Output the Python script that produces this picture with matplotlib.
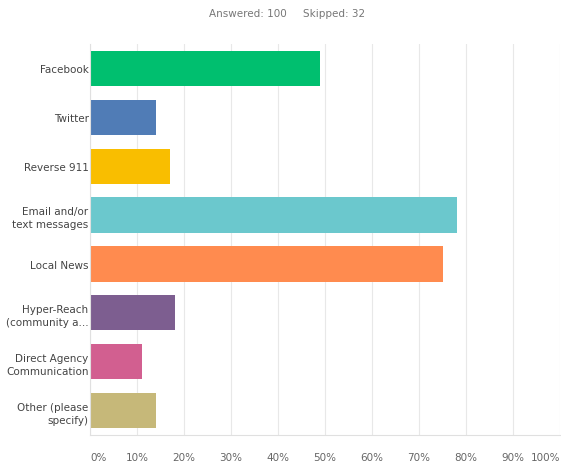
import matplotlib.pyplot as plt

# answer choices and share of respondents (%)
categories = ["Facebook", "Twitter", "Reverse 911", "Email and/or\ntext messages",
              "Local News", "Hyper-Reach\n(community a...", "Direct Agency\nCommunication",
              "Other (please\nspecify)"]
values = [49, 14, 17, 78, 75, 18, 11, 14]
colors = ["#00BF6F", "#507CB6", "#F9BE00", "#6BC8CD", "#FF8B4F", "#7D5E90", "#D25F90", "#C6B879"]
ticks = list(range(0, 101, 10))

fig = plt.figure(figsize=(5.61, 4.64), dpi=100)
ax = fig.add_axes([90 / 561, 1 - 436 / 464, 470 / 561, 391 / 464])

ax.barh(range(len(categories)), values, height=0.72, color=colors, zorder=2)
ax.set_ylim(len(categories) - 0.5, -0.5)
ax.set_xlim(0, 100)

ax.set_yticks(range(len(categories)))
ax.set_yticklabels(categories, fontsize=7.5, color="#444444", linespacing=1.4)
ax.set_xticks(ticks)
ax.set_xticklabels([f"{t}%" for t in ticks], fontsize=7.5, color="#666666")
ax.tick_params(axis="y", length=0, pad=1)
ax.tick_params(axis="x", length=0, pad=12)

# end labels are kept inside the plot width
xlabels = ax.get_xticklabels()
xlabels[0].set_horizontalalignment("left")
xlabels[-1].set_horizontalalignment("right")

ax.grid(axis="x", color="#e8e8e8", linewidth=0.8, zorder=0)
for side in ["top", "right"]:
    ax.spines[side].set_visible(False)
ax.spines["left"].set_color("#e0e0e0")
ax.spines["bottom"].set_color("#e0e0e0")

fig.text(0.512, 1 - 14 / 464, "Answered: 100     Skipped: 32", ha="center", va="center",
         fontsize=7.5, color="#777777")

plt.savefig("out.png", dpi=100)
plt.close()
